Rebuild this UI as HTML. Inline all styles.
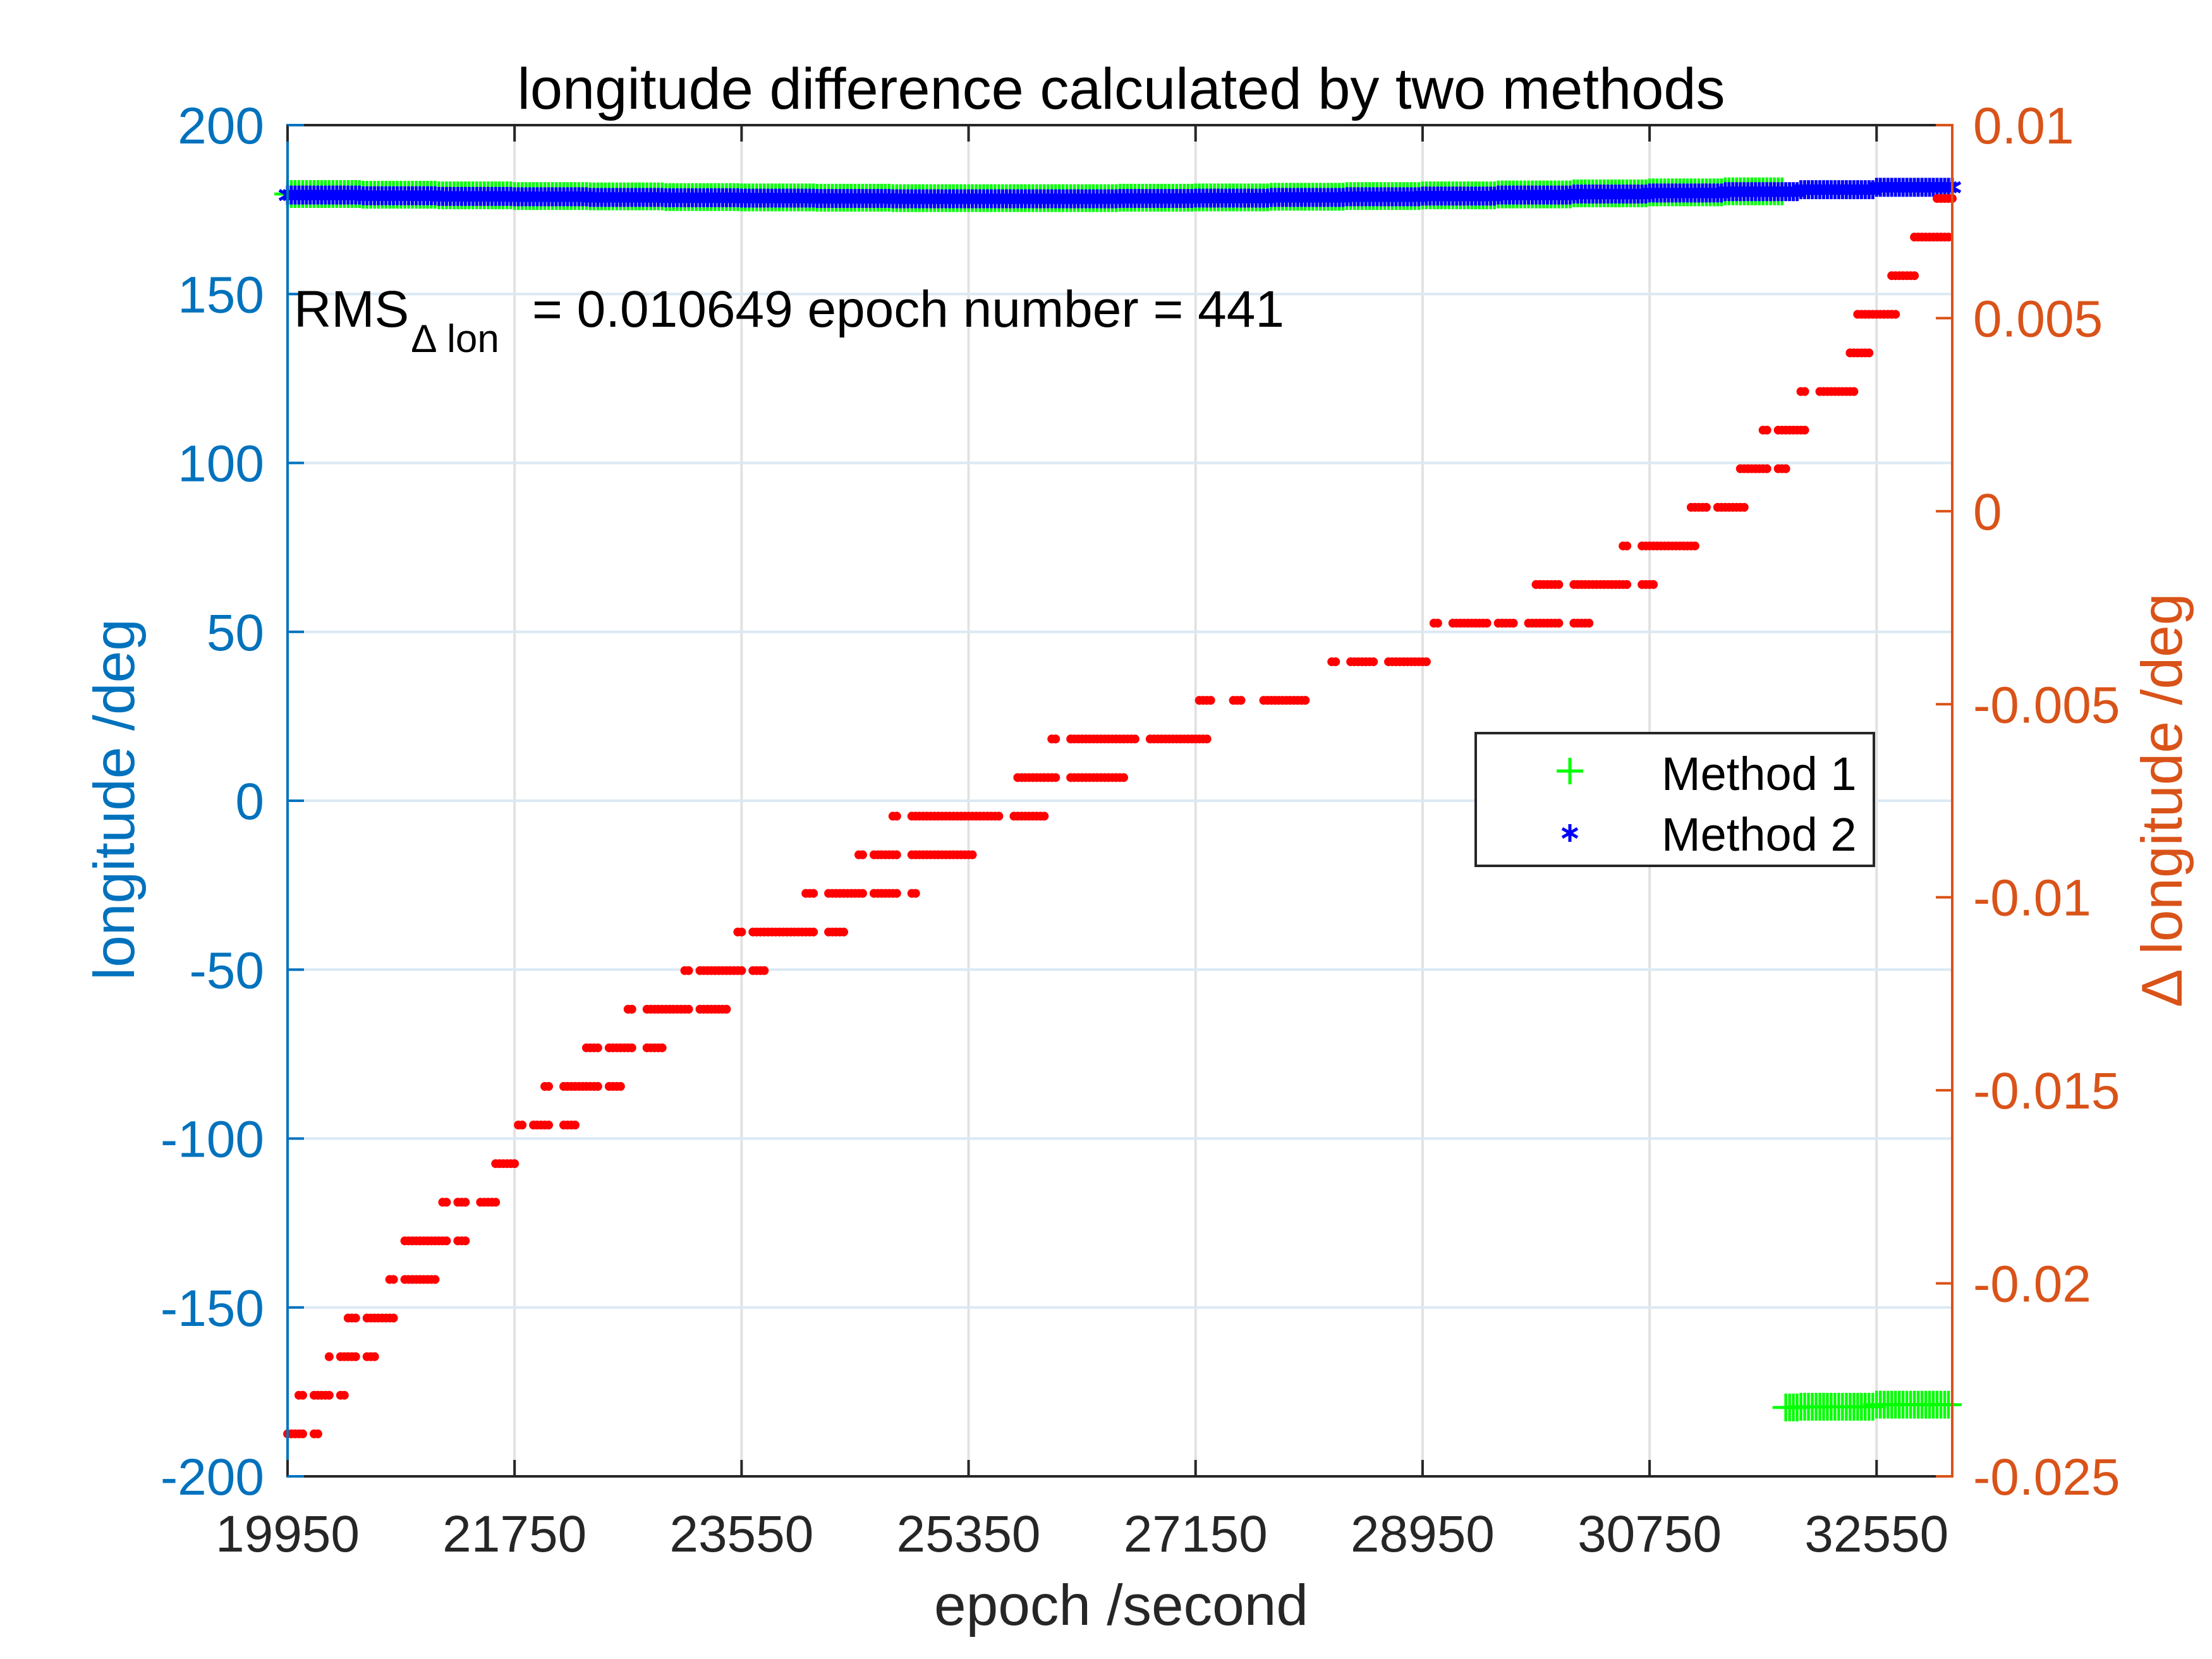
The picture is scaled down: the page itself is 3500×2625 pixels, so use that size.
<!DOCTYPE html>
<html><head><meta charset="utf-8"><style>
html,body{margin:0;padding:0;background:#fff;}
svg{display:block;font-family:"Liberation Sans",Arial,sans-serif;}
</style></head><body>
<svg id="chart" width="3500" height="2625" viewBox="0 0 3500 2625" xmlns="http://www.w3.org/2000/svg">
<rect x="0" y="0" width="3500" height="2625" fill="#fff"/>
<g id="grid"></g>
<g id="marks"></g>
<g id="axes"></g>
<text x="1774" y="172" font-size="92" text-anchor="middle" fill="#000">longitude difference calculated by two methods</text>
<text x="1774" y="2571" font-size="91" text-anchor="middle" fill="#262626">epoch /second</text>
<text transform="translate(212,1265) rotate(-90)" font-size="91" text-anchor="middle" fill="#0072BD">longitude /deg</text>
<text transform="translate(3452,1265) rotate(-90)" font-size="91" text-anchor="middle" fill="#D95319">∆ longitude /deg</text>
<g>
<text x="465" y="517" font-size="82" fill="#000">RMS</text>
<text x="652" y="557" font-size="62" fill="#000">∆ lon</text>
<text x="842" y="517" font-size="82" fill="#000">= 0.010649 epoch number = 441</text>
</g>
<g>
<rect x="2335" y="1160" width="630" height="210" fill="#fff" stroke="#262626" stroke-width="4"/>
<g stroke="#00FF00" stroke-width="5">
<line x1="2463" y1="1220" x2="2505" y2="1220"/><line x1="2484" y1="1199" x2="2484" y2="1241"/></g>
<text x="2629" y="1250" font-size="74" fill="#000">Method 1</text>
<g stroke="#0000FF" stroke-width="5">
<line x1="2484" y1="1304" x2="2484" y2="1332"/><line x1="2472" y1="1311" x2="2496" y2="1325"/><line x1="2472" y1="1325" x2="2496" y2="1311"/></g>
<text x="2629" y="1346" font-size="74" fill="#000">Method 2</text>
</g>
</svg>
<script>
// ---- data ----
const xTicks = [19950, 21750, 23550, 25350, 27150, 28950, 30750, 32550];
const yLeftTicks = [200, 150, 100, 50, 0, -50, -100, -150, -200];
const yRightTicks = [0.01, 0.005, 0, -0.005, -0.01, -0.015, -0.02, -0.025];
const yRightTickLabels = ["0.01", "0.005", "0", "-0.005", "-0.01", "-0.015", "-0.02", "-0.025"];
// longitude block values every 600 s starting at 19950
const lonBlockStart = [19950,20550,21150,21750,22350,22950,23550,24150,24750,25350,25950,26550,27150,27750,28350,28950,29550,30150,30750,31350,31950,32550];
const lonMethod1 = [179.6,179.4,179.2,179.0,178.9,178.7,178.6,178.5,178.4,178.4,178.4,178.5,178.6,178.8,179.0,179.2,179.5,179.8,180.1,180.4,-179.4,-178.8];
const lonMethod2 = [179.3,179.1,178.9,178.8,178.6,178.5,178.4,178.3,178.2,178.2,178.2,178.3,178.4,178.6,178.8,179.0,179.3,179.6,179.9,180.3,180.9,181.6];
const method1WrapEpoch = 31830;
// delta longitude staircase segments
const deltaLevel = [-0.0239,-0.0229,-0.0219,-0.0209,-0.0199,-0.0189,-0.0179,-0.0169,-0.0159,-0.0149,-0.0139,-0.0129,-0.0119,-0.0109,-0.0099,-0.0089,-0.0079,-0.0069,-0.0059,-0.0049,-0.0039,-0.0029,-0.0019,-0.0009,0.0001,0.0011,0.0021,0.0031,0.0041,0.0051,0.0061,0.0071,0.0081];
const deltaStart = [19950,20040,20280,20430,20760,20880,21180,21600,21780,21990,22320,22650,23100,23520,24060,24480,24750,25740,26010,27180,28230,29040,29850,30540,31080,31470,31650,31950,32340,32400,32670,32850,33030];
const deltaEnd   = [20190,20400,20640,20790,21120,21360,21600,21750,22230,22590,22920,23430,23730,24360,24930,25380,25950,26580,27240,28020,28980,30270,30780,31110,31500,31830,32040,32370,32490,32700,32850,33120,33150];
// epochs with missing dots (gaps within staircase runs)
const deltaGapStart = [20100,20310,20520,20820,21240,21390,21840,22050,22440,22710,23160,23580,24150,24540,24810,25620,26070,26700,27300,27540,28290,28590,29100,29490,29700,30060,30600,31230,31710,32010];
const deltaGapEnd   = [20130,20340,20550,20850,21270,21450,21870,22110,22470,22770,23190,23610,24210,24570,24870,25680,26130,26760,27420,27660,28350,28650,29160,29520,29760,30120,30660,31260,31740,32070];

const XMIN = 19950, XMAX = 33150;
const PL = 455, PR = 3089, PT = 198, PB = 2336;
function sx(v){ return PL + (v - XMIN) / (XMAX - XMIN) * (PR - PL); }
function syL(v){ return PT + (200 - v) / 400 * (PB - PT); }
function syR(v){ return PT + (0.01 - v) / 0.035 * (PB - PT); }

const NS = "http://www.w3.org/2000/svg";
function mk(tag, attrs, parent){
  const e = document.createElementNS(NS, tag);
  for (const k in attrs) e.setAttribute(k, attrs[k]);
  parent.appendChild(e); return e;
}
const gridG = document.getElementById('grid');
const marksG = document.getElementById('marks');
const axesG = document.getElementById('axes');

xTicks.forEach(t => {
  if (t === XMIN) return;
  const l = mk('line', {x1: sx(t), x2: sx(t), y1: PT, y2: PB, stroke: '#e2e2e2', 'stroke-width': 4}, gridG);
  
  
});
yLeftTicks.forEach(t => {
  if (t === 200 || t === -200) return;
  const l = mk('line', {x1: PL, x2: PR, y1: syL(t), y2: syL(t), stroke: '#dbe9f4', 'stroke-width': 4}, gridG);
  
  
});

function blockVal(arr, e){
  let idx = 0;
  for (let i = 0; i < lonBlockStart.length; i++) if (e >= lonBlockStart[i]) idx = i;
  return arr[idx];
}
function inGap(e){
  for (let i = 0; i < deltaGapStart.length; i++) if (e >= deltaGapStart[i] && e <= deltaGapEnd[i]) return true;
  return false;
}

const g1 = mk('g', {stroke: '#00FF00', 'stroke-width': 4.5}, marksG);


for (let e = XMIN; e <= XMAX - 30; e += 30) {
  let v = blockVal(lonMethod1, e);
  if (e >= method1WrapEpoch && v > 0) v = v - 360;
  if (e < method1WrapEpoch && v < 0) v = v + 360;
  const x = sx(e), y = syL(v);
  const p = mk('path', {d: `M${x-21},${y}H${x+21}M${x},${y-22}V${y+22}`}, g1);
  
  
}
const g2 = mk('g', {stroke: '#0000FF', 'stroke-width': 5}, marksG);


for (let e = XMIN; e <= XMAX; e += 30) {
  const v = blockVal(lonMethod2, e);
  const x = sx(e), y = syL(v);
  const p = mk('path', {d: `M${x},${y-15}V${y+15}M${x-13},${y-7.5}L${x+13},${y+7.5}M${x-13},${y+7.5}L${x+13},${y-7.5}`}, g2);
  
  
}
const g3 = mk('g', {fill: '#FF0000'}, marksG);


for (let i = 0; i < deltaLevel.length; i++) {
  for (let e = deltaStart[i]; e <= deltaEnd[i]; e += 30) {
    if (inGap(e)) continue;
    const c = mk('circle', {cx: sx(e), cy: syR(deltaLevel[i]), r: 7}, g3);
    
    
  }
}

const topAxis = mk('line', {x1: PL, x2: PR, y1: PT, y2: PT, stroke: '#262626', 'stroke-width': 4}, axesG);


const botAxis = mk('line', {x1: PL, x2: PR, y1: PB, y2: PB, stroke: '#262626', 'stroke-width': 4}, axesG);


const leftAxis = mk('line', {x1: PL, x2: PL, y1: PT-2, y2: PB+2, stroke: '#0072BD', 'stroke-width': 4}, axesG);


const rightAxis = mk('line', {x1: PR, x2: PR, y1: PT-2, y2: PB+2, stroke: '#D95319', 'stroke-width': 4}, axesG);



xTicks.forEach(t => {
  const x = sx(t);
  const a = mk('line', {x1: x, x2: x, y1: PB, y2: PB-26, stroke: '#262626', 'stroke-width': 4}, axesG);
  
  
  const b = mk('line', {x1: x, x2: x, y1: PT, y2: PT+26, stroke: '#262626', 'stroke-width': 4}, axesG);
  
  
  const tx = mk('text', {x: x, y: 2455, 'font-size': 82, 'text-anchor': 'middle', fill: '#262626'}, axesG);
  tx.textContent = String(t);
  
  
});
yLeftTicks.forEach(t => {
  const y = syL(t);
  const a = mk('line', {x1: PL, x2: PL+26, y1: y, y2: y, stroke: '#0072BD', 'stroke-width': 4}, axesG);
  
  
  const tx = mk('text', {x: 418, y: y + 29, 'font-size': 82, 'text-anchor': 'end', fill: '#0072BD'}, axesG);
  tx.textContent = String(t);
  
  
});
yRightTicks.forEach((t, i) => {
  const y = syR(t);
  const a = mk('line', {x1: PR, x2: PR-26, y1: y, y2: y, stroke: '#D95319', 'stroke-width': 4}, axesG);
  
  
  const tx = mk('text', {x: 3122, y: y + 29, 'font-size': 82, 'text-anchor': 'start', fill: '#D95319'}, axesG);
  tx.textContent = yRightTickLabels[i];
  
  
});
</script>
</body></html>
